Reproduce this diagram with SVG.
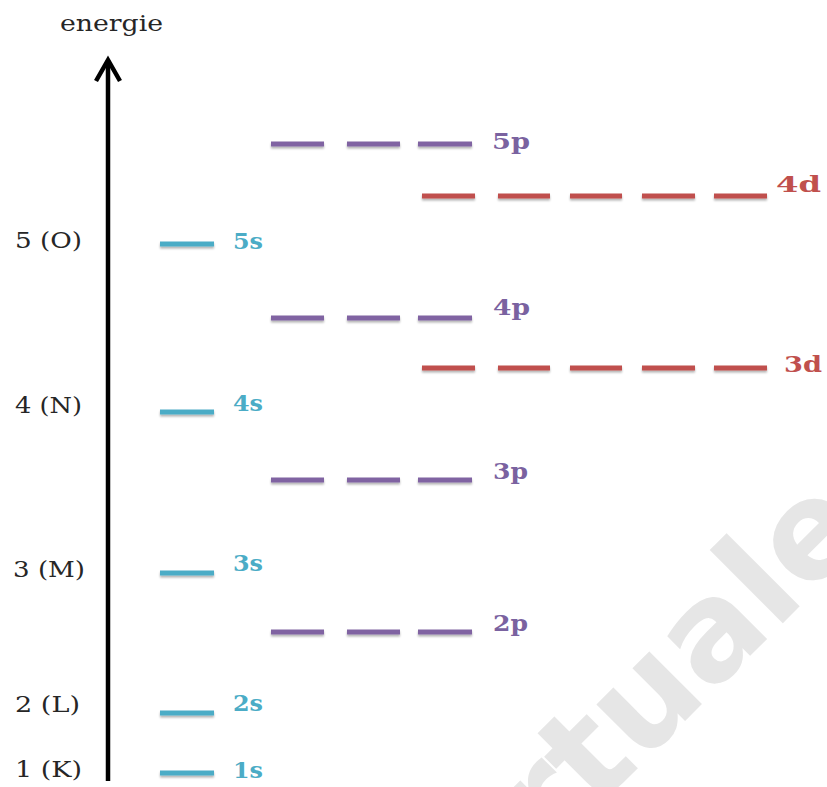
<svg xmlns="http://www.w3.org/2000/svg" width="827" height="787" viewBox="0 0 827 787">
<defs>
<filter id="sh" filterUnits="userSpaceOnUse" x="0" y="0" width="827" height="787">
<feDropShadow dx="0" dy="2" stdDeviation="1.2" flood-color="#000" flood-opacity="0.3"/>
</filter>
</defs>
<style>
.lvl{font-family:"DejaVu Serif","Liberation Serif",serif;font-size:22px;fill:#262626}
.orb{font-family:"DejaVu Serif","Liberation Serif",serif;font-size:23px;font-weight:bold}
.s{stroke:#4bacc6;stroke-width:5;fill:none;filter:url(#sh)}
.p{stroke:#8064a2;stroke-width:5;fill:none;filter:url(#sh)}
.d{stroke:#c0504d;stroke-width:5;fill:none;filter:url(#sh)}
.ts{fill:#4bacc6}.tp{fill:#7a62a0}.td{fill:#c0504d}
.wm{font-family:"DejaVu Sans","Liberation Sans",sans-serif;font-weight:bold;font-size:136px;fill:#e6e6e6}
</style>
<rect width="827" height="787" fill="#fff"/>
<text class="wm" transform="translate(548,858) rotate(-45)">rtuale</text>
<g id="axis">
<path d="M108,781 V61" stroke="#000" stroke-width="4.5" fill="none"/>
<path d="M96,81 L108,60 L120,81" stroke="#000" stroke-width="4.5" fill="none" stroke-linejoin="miter"/>
<text class="lvl" x="60" y="31" textLength="103" lengthAdjust="spacingAndGlyphs">energie</text>
</g>
<g id="shells">
<text class="lvl" x="15" y="248" textLength="67" lengthAdjust="spacingAndGlyphs">5 (O)</text>
<text class="lvl" x="15" y="413" textLength="67" lengthAdjust="spacingAndGlyphs">4 (N)</text>
<text class="lvl" x="13" y="577" textLength="72" lengthAdjust="spacingAndGlyphs">3 (M)</text>
<text class="lvl" x="15" y="712" textLength="65" lengthAdjust="spacingAndGlyphs">2 (L)</text>
<text class="lvl" x="15" y="777" textLength="67" lengthAdjust="spacingAndGlyphs">1 (K)</text>
</g>
<g id="orbitals">
<g id="o5p"><path class="p" d="M271,144H324M347,144H400M418,144H472"/><text class="orb tp" x="492" y="149" textLength="38" lengthAdjust="spacingAndGlyphs">5p</text></g>
<g id="o4d"><path class="d" d="M422,196H475M498,196H550M570,196H622M642,196H695M714,196H767"/><text class="orb td" x="776" y="192" textLength="45" lengthAdjust="spacingAndGlyphs">4d</text></g>
<g id="o5s"><path class="s" d="M160,244H214"/><text class="orb ts" x="233" y="249" textLength="30" lengthAdjust="spacingAndGlyphs">5s</text></g>
<g id="o4p"><path class="p" d="M271,318H324M347,318H400M418,318H472"/><text class="orb tp" x="493" y="315" textLength="37" lengthAdjust="spacingAndGlyphs">4p</text></g>
<g id="o3d"><path class="d" d="M422,368H475M498,368H550M570,368H622M642,368H695M714,368H767"/><text class="orb td" x="784" y="372" textLength="38" lengthAdjust="spacingAndGlyphs">3d</text></g>
<g id="o4s"><path class="s" d="M160,412H214"/><text class="orb ts" x="233" y="411" textLength="30" lengthAdjust="spacingAndGlyphs">4s</text></g>
<g id="o3p"><path class="p" d="M271,480H324M347,480H400M418,480H472"/><text class="orb tp" x="493" y="479" textLength="35" lengthAdjust="spacingAndGlyphs">3p</text></g>
<g id="o3s"><path class="s" d="M160,573H214"/><text class="orb ts" x="233" y="571" textLength="30" lengthAdjust="spacingAndGlyphs">3s</text></g>
<g id="o2p"><path class="p" d="M271,632H324M347,632H400M418,632H472"/><text class="orb tp" x="493" y="631" textLength="35" lengthAdjust="spacingAndGlyphs">2p</text></g>
<g id="o2s"><path class="s" d="M160,713H214"/><text class="orb ts" x="233" y="711" textLength="30" lengthAdjust="spacingAndGlyphs">2s</text></g>
<g id="o1s"><path class="s" d="M160,773H214"/><text class="orb ts" x="233" y="778" textLength="30" lengthAdjust="spacingAndGlyphs">1s</text></g>
</g>
</svg>
